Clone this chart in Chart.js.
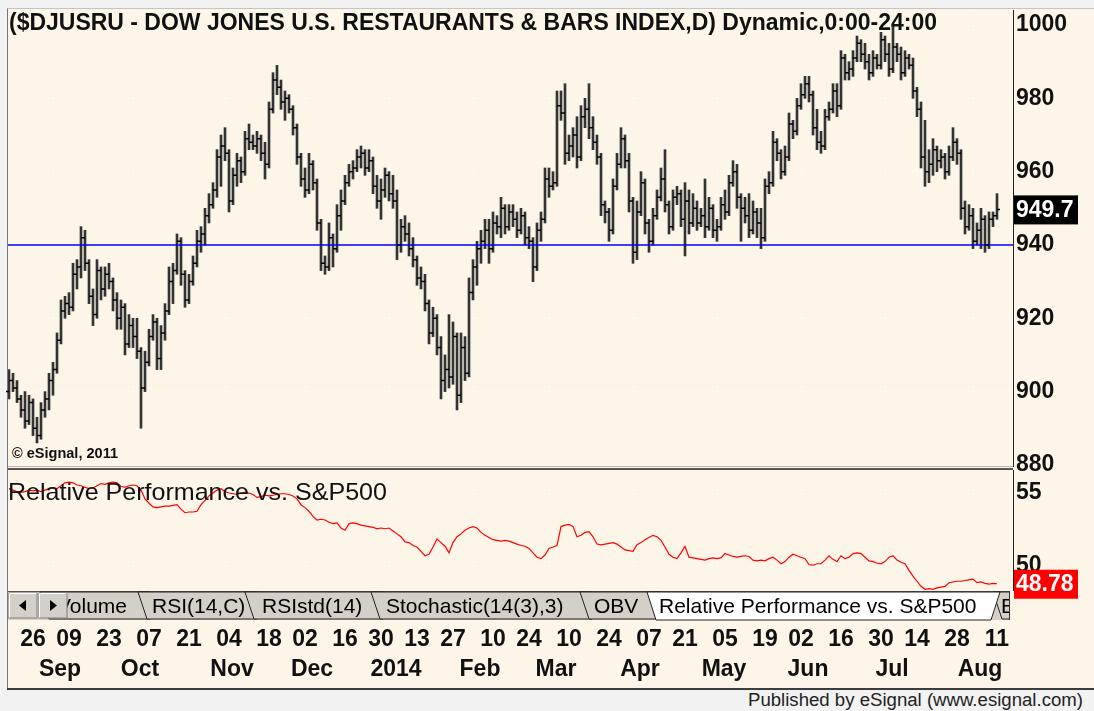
<!DOCTYPE html>
<html>
<head>
<meta charset="utf-8">
<title>$DJUSRU</title>
<script src="https://cdn.jsdelivr.net/npm/chart.js@4.4.1/dist/chart.umd.min.js"></script>
<style>
  body { margin: 0; background: #f0f0f0; font-family: "Liberation Sans", Arial, sans-serif; }
  #wrap { position: relative; width: 1094px; height: 711px; overflow: hidden; background: #f2f2f2; }
  #panel { position: absolute; left: 7px; top: 8px; width: 1087px; height: 681px; background: #fdf6e8;
           border-left: 1px solid #777; border-top: 1px solid #c4c4c4; box-sizing: border-box; }
  canvas { position: absolute; left: 0; }
  .txt { position: absolute; white-space: nowrap; transform-origin: left top; color: #111; }
  #title { left: 9px; top: 8px; font: bold 24px "Liberation Sans", Arial, sans-serif; }
  #copy { left: 12px; top: 445px; font: bold 14px "Liberation Sans", Arial, sans-serif; }
  #rplabel { left: 8px; top: 478px; font: 24px "Liberation Sans", Arial, sans-serif; }
  #footer { left: 748px; top: 690px; font: 18px "Liberation Sans", Arial, sans-serif; color: #222; }
  .sep { position: absolute; left: 8px; width: 1005px; }
</style>
</head>
<body>
<div id="wrap">
  <div id="panel"></div>
  <canvas id="main" width="1094" height="480" style="top:0"></canvas>
  <canvas id="rp" width="1094" height="218" style="top:470px"></canvas>
  <div class="sep" style="top:466px;height:1px;background:#b8b8b8"></div>
  <div class="sep" style="top:468px;height:2px;background:#555"></div>
  <div style="position:absolute;left:7px;top:688px;width:1087px;height:2px;background:#3c3c3c"></div>

  <div id="title" class="txt">($DJUSRU - DOW JONES U.S. RESTAURANTS &amp; BARS INDEX,D) Dynamic,0:00-24:00</div>
  <div id="copy" class="txt">&copy; eSignal, 2011</div>
  <div id="rplabel" class="txt">Relative Performance vs. S&amp;P500</div>
  <div id="footer" class="txt">Published by eSignal (www.esignal.com)</div>

  <svg style="position:absolute;left:0;top:588px" width="1094" height="36" font-family="Liberation Sans, Arial, sans-serif" font-size="21">
    <defs><clipPath id="bar"><rect x="8" y="0" width="1002" height="36"/></clipPath></defs>
    <g clip-path="url(#bar)">
      <rect x="8" y="3" width="1002" height="29" fill="#d4d0c8"/>
      <line x1="8" y1="3.5" x2="1010" y2="3.5" stroke="#555"/>
      <polygon points="40,4 49,31 150,31 150,4" fill="#d4d0c8" stroke="#222"/>
      <text x="57" y="25">Volume</text>
      <polygon points="138,4 147,31 257,31 257,4" fill="#d4d0c8" stroke="#222"/>
      <text x="152" y="25">RSI(14,C)</text>
      <polygon points="245,4 254,31 383,31 383,4" fill="#d4d0c8" stroke="#222"/>
      <text x="262" y="25">RSIstd(14)</text>
      <polygon points="371,4 380,31 592,31 592,4" fill="#d4d0c8" stroke="#222"/>
      <text x="386" y="25">Stochastic(14(3),3)</text>
      <polygon points="580,4 589,31 660,31 660,4" fill="#d4d0c8" stroke="#222"/>
      <text x="594" y="25">OBV</text>
      <polygon points="993,4 1002,31 1060,31 1060,4" fill="#d4d0c8" stroke="#222"/>
      <text x="1001" y="25">E</text>
      <polygon points="647,4 656,32 991,32 1000,4" fill="#ffffff" stroke="#222"/>
      <text x="659" y="25">Relative Performance vs. S&amp;P500</text>
      <rect x="9" y="5" width="28" height="25" fill="#d4d0c8" stroke="#808080"/>
      <polyline points="9.5,29.5 9.5,5.5 36.5,5.5" fill="none" stroke="#fff"/>
      <polygon points="19,17.5 26,12 26,23" fill="#000"/>
      <rect x="39" y="5" width="28" height="25" fill="#d4d0c8" stroke="#808080"/>
      <polyline points="39.5,29.5 39.5,5.5 66.5,5.5" fill="none" stroke="#fff"/>
      <polygon points="50,12 50,23 57,17.5" fill="#000"/>
      <line x1="1009.5" y1="3" x2="1009.5" y2="32" stroke="#333"/>
    </g>
  </svg>
</div>

<script>
// trading day index 0 = 16 Aug 2013, last (247) = 11 Aug 2014
const dayTickIdx = [6, 15, 25, 35, 45, 55, 65, 74, 84, 93, 102, 111, 121, 130, 140, 150, 160, 169, 179, 189, 198, 208, 218, 227, 237, 247];
const dayTickLabels = ['26', '09', '23', '07', '21', '04', '18', '02', '16', '30', '13', '27', '10', '24', '10', '24', '07', '21', '05', '19', '02', '16', '30', '14', '28', '11'];
const monthIdx = [11, 31, 54, 74, 95, 116, 135, 156, 177, 198, 219, 241];
const monthLabels = ['Sep', 'Oct', 'Nov', 'Dec', '2014', 'Feb', 'Mar', 'Apr', 'May', 'Jun', 'Jul', 'Aug'];
const priceTicks = [880, 900, 920, 940, 960, 980, 1000];
const rpTicks = [50, 55];
const refLevel = 940;

const opens = [
  900, 903, 901, 898, 895, 892, 897, 890, 888, 895,
  898, 903, 906, 914, 922, 924, 923, 932, 934, 942,
  935, 926, 921, 933, 928, 932, 930, 925, 920, 923,
  913, 918, 915, 911, 901, 908, 915, 919, 909, 916,
  922, 930, 933, 941, 932, 925, 930, 935, 941, 943,
  948, 951, 955, 964, 967, 965, 952, 959, 963, 960,
  969, 968, 967, 969, 965, 962, 977, 985, 983, 979,
  980, 977, 972, 964, 958, 955, 962, 957, 946, 935,
  934, 942, 939, 948, 952, 957, 960, 961, 964, 965,
  961, 963, 956, 952, 955, 959, 954, 952, 940, 945,
  943, 939, 936, 931, 930, 924, 916, 920, 912, 903,
  906, 904, 915, 899, 912, 905, 927, 934, 939, 941,
  944, 939, 946, 945, 950, 945, 949, 947, 944, 948,
  942, 941, 934, 944, 947, 958, 956, 957, 978, 976,
  965, 967, 970, 964, 975, 977, 972, 968, 964, 951,
  949, 944, 956, 962, 969, 963, 952, 938, 949, 957,
  946, 941, 948, 953, 958, 951, 945, 953, 954, 947,
  952, 946, 950, 946, 948, 945, 950, 944, 945, 951,
  949, 957, 960, 953, 950, 948, 944, 949, 946, 942,
  956, 957, 968, 965, 960, 964, 973, 971, 978, 981,
  984, 981, 972, 968, 967, 975, 977, 982, 978, 991,
  987, 988, 991, 995, 992, 990, 987, 991, 989, 996,
  992, 988, 994, 992, 987, 991, 989, 982, 977, 964,
  960, 962, 966, 963, 964, 960, 964, 968, 965, 950,
  945, 948, 941, 944, 947, 940, 947, 948
];
const highs = [
  906, 905, 903, 899, 900, 899, 898, 893, 897, 900,
  905, 908, 916, 925, 926, 927, 935, 936, 945, 944,
  936, 928, 936, 934, 934, 935, 931, 927, 925, 924,
  921, 920, 920, 912, 911, 917, 921, 920, 918, 924,
  934, 935, 943, 942, 933, 932, 937, 944, 945, 950,
  954, 957, 966, 970, 972, 966, 961, 965, 964, 971,
  973, 970, 971, 970, 968, 979, 987, 989, 985, 982,
  981, 978, 973, 965, 961, 965, 963, 958, 947, 937,
  946, 943, 951, 955, 959, 962, 963, 966, 967, 966,
  966, 964, 959, 958, 961, 960, 959, 955, 947, 948,
  946, 942, 937, 934, 932, 925, 923, 921, 915, 910,
  921, 919, 916, 916, 915, 931, 936, 941, 944, 947,
  947, 949, 948, 953, 951, 951, 951, 949, 950, 949,
  945, 942, 946, 949, 961, 961, 960, 982, 982, 984,
  970, 972, 975, 978, 980, 984, 975, 970, 965, 952,
  950, 958, 965, 972, 970, 965, 953, 952, 960, 958,
  947, 950, 955, 961, 966, 952, 955, 956, 955, 957,
  955, 954, 952, 950, 958, 953, 951, 947, 953, 955,
  959, 963, 962, 954, 953, 954, 952, 950, 950, 958,
  960, 971, 969, 966, 967, 976, 974, 980, 984, 986,
  986, 982, 977, 971, 977, 979, 984, 984, 993, 992,
  990, 993, 997, 996, 995, 992, 993, 992, 998, 997,
  995, 1000, 995, 994, 993, 992, 991, 983, 979, 974,
  966, 969, 967, 966, 965, 967, 972, 969, 966, 952,
  951, 950, 946, 950, 948, 949, 949, 954
];
const lows = [
  898, 900, 897, 893, 890, 891, 888, 886, 887, 893,
  895, 899, 905, 913, 920, 921, 922, 928, 931, 933,
  924, 918, 920, 925, 926, 928, 922, 917, 917, 910,
  912, 912, 909, 890, 900, 907, 914, 906, 906, 914,
  921, 924, 932, 929, 923, 924, 929, 934, 938, 940,
  946, 950, 953, 956, 963, 949, 951, 956, 957, 959,
  966, 966, 965, 963, 958, 961, 976, 981, 977, 974,
  976, 970, 962, 956, 953, 954, 955, 944, 933, 932,
  933, 934, 938, 944, 951, 956, 958, 960, 961, 959,
  960, 954, 950, 947, 953, 952, 950, 936, 938, 941,
  937, 934, 929, 928, 922, 913, 915, 910, 898, 900,
  901, 902, 895, 897, 903, 904, 925, 929, 935, 939,
  935, 938, 943, 942, 943, 944, 945, 942, 943, 940,
  939, 930, 933, 941, 946, 953, 955, 956, 974, 962,
  963, 964, 961, 963, 972, 969, 966, 962, 948, 946,
  941, 943, 955, 961, 961, 949, 935, 936, 948, 943,
  938, 940, 947, 952, 949, 943, 944, 951, 945, 937,
  943, 945, 944, 945, 942, 944, 942, 941, 944, 947,
  948, 956, 950, 941, 946, 942, 943, 942, 939, 941,
  954, 956, 963, 958, 959, 963, 969, 970, 977, 980,
  979, 970, 966, 965, 966, 974, 976, 975, 977, 985,
  985, 986, 990, 990, 988, 985, 986, 988, 988, 990,
  986, 987, 990, 985, 986, 988, 980, 975, 961, 956,
  957, 959, 960, 961, 958, 959, 963, 962, 947, 943,
  944, 939, 940, 939, 938, 939, 945, 947
];
const closes = [
  903, 901, 898, 895, 892, 897, 890, 888, 895, 898,
  903, 906, 914, 922, 924, 923, 932, 934, 942, 935,
  926, 921, 933, 928, 932, 930, 925, 920, 923, 913,
  918, 915, 911, 901, 908, 915, 919, 909, 916, 922,
  930, 933, 941, 932, 925, 930, 935, 941, 943, 948,
  951, 955, 964, 967, 965, 952, 959, 963, 960, 969,
  968, 967, 969, 965, 962, 977, 985, 983, 979, 980,
  977, 972, 964, 958, 955, 962, 957, 946, 935, 934,
  942, 939, 948, 952, 957, 960, 961, 964, 965, 961,
  963, 956, 952, 955, 959, 954, 952, 940, 945, 943,
  939, 936, 931, 930, 924, 916, 920, 912, 903, 906,
  904, 915, 899, 912, 905, 927, 934, 939, 941, 944,
  939, 946, 945, 950, 945, 949, 947, 944, 948, 942,
  941, 934, 944, 947, 958, 956, 957, 978, 976, 965,
  967, 970, 964, 975, 977, 972, 968, 964, 951, 949,
  944, 956, 962, 969, 963, 952, 938, 949, 957, 946,
  941, 948, 953, 958, 951, 945, 953, 954, 947, 952,
  946, 950, 946, 948, 945, 950, 944, 945, 951, 949,
  957, 960, 953, 950, 948, 944, 949, 946, 942, 956,
  957, 968, 965, 960, 964, 973, 971, 978, 981, 984,
  981, 972, 968, 967, 975, 977, 982, 978, 991, 987,
  988, 991, 995, 992, 990, 987, 991, 989, 996, 992,
  988, 994, 992, 987, 991, 989, 982, 977, 964, 960,
  962, 966, 963, 964, 960, 964, 968, 965, 950, 945,
  948, 941, 944, 947, 940, 947, 948, 949.7
];
// relative performance vs. S&P500
const rpValues = [
  55.3, 55.2, 55.1, 55.05, 55.1, 55.2, 55.15, 55.2, 55.1, 55.2,
  55.3, 55.35, 55.3, 55.5, 55.7, 55.75, 55.7, 55.55, 55.5, 55.4,
  55.3, 55.35, 55.5, 55.65, 55.6, 55.7, 55.75, 55.7, 55.45, 55.4,
  55.5, 55.55, 55.5, 55.2, 54.6, 54.3, 54.05, 54.0, 54.05, 54.1,
  54.1, 54.15, 54.2, 53.9, 53.65, 53.7, 53.7, 53.75, 54.2, 54.5,
  54.8, 55.0, 55.2, 55.3, 55.1, 55.0, 54.95, 54.9, 55.0, 55.05,
  55.0, 54.9, 54.7, 54.75, 54.85, 54.8, 54.85, 54.9, 54.95, 54.95,
  54.9, 54.8, 54.6, 54.2, 54.0, 53.75, 53.4, 53.15, 53.2, 53.15,
  53.0, 52.9, 52.95, 52.6, 52.45, 52.9, 52.95, 52.9, 52.8, 52.75,
  52.7, 52.65, 52.55, 52.6, 52.55, 52.6, 52.4, 52.2, 52.0, 51.65,
  51.6, 51.4, 51.3, 51.0, 50.7, 50.8, 51.3, 51.85, 51.6, 51.35,
  50.9, 51.6, 52.0, 52.2, 52.45, 52.6, 52.7, 52.6, 52.3, 52.1,
  51.95, 51.8, 51.75, 51.7, 51.75, 51.7, 51.6, 51.5, 51.4, 51.35,
  51.2, 50.9, 50.6, 50.5, 50.75, 51.2, 51.3, 51.4, 52.7, 52.8,
  52.85, 52.7, 52.0, 52.1, 52.3, 52.35, 52.0, 51.5, 51.45, 51.5,
  51.55, 51.6, 51.5, 51.3, 51.1, 51.05, 51.0, 51.45, 51.6, 51.8,
  51.95, 52.1, 52.0, 51.75, 51.3, 50.8, 50.6, 50.5, 50.9, 51.35,
  50.6, 50.55, 50.5, 50.45, 50.4, 50.5, 50.55, 50.5, 50.55, 50.85,
  50.75, 50.65, 50.6, 50.65, 50.7, 50.65, 50.4, 50.35, 50.4, 50.35,
  50.5, 50.6, 50.4, 50.15, 50.3, 50.6, 50.8, 50.7, 50.6, 50.5,
  50.1, 50.05, 50.15, 50.15, 50.4, 50.7, 50.45, 50.3, 50.7, 50.5,
  50.6, 50.85, 50.9, 50.85, 50.6, 50.35, 50.3, 50.2, 50.15, 50.3,
  50.6, 50.7, 50.4, 50.25, 50.15, 49.7, 49.3, 48.95, 48.6, 48.4,
  48.45, 48.4, 48.5, 48.55, 48.6, 48.85, 48.9, 48.95, 48.95, 49.0,
  49.05, 49.1, 48.85, 48.9, 48.8, 48.75, 48.8, 48.78
];

const xMin = -0.25, xMax = 251;
const labelFont = { family: 'Liberation Sans', size: 23, weight: 'bold' };
const gridDots = 'rgba(255,255,255,0.95)';

function fixWidth(w) {
    return axis => { axis.width = w; axis.paddingTop = 0; axis.paddingBottom = 0; };
}
function fixHeight(h) {
    return axis => { axis.height = h; axis.paddingLeft = 0; axis.paddingRight = 0; };
}

// open tick to the left, close tick to the right of each bar
const ohlcTicks = {
    id: 'ohlcTicks',
    afterDatasetsDraw(chart) {
        const { ctx, scales: { x, y } } = chart;
        ctx.save();
        ctx.strokeStyle = '#000';
        ctx.lineWidth = 1.5;
        ctx.beginPath();
        opens.forEach((o, i) => {
            const px = x.getPixelForValue(i);
            const yo = y.getPixelForValue(o);
            const yc = y.getPixelForValue(closes[i]);
            ctx.moveTo(px - 3, yo); ctx.lineTo(px, yo);
            ctx.moveTo(px, yc); ctx.lineTo(px + 3, yc);
        });
        ctx.stroke();
        ctx.restore();
    }
};

function lastValueBox(id, value, text, bg) {
    return {
        id,
        afterDraw(chart) {
            const { ctx } = chart;
            const ys = chart.scales.y;
            const py = ys.getPixelForValue(value);
            ctx.save();
            ctx.fillStyle = bg;
            ctx.fillRect(ys.left + 1, py - 14, 64, 29);
            ctx.fillStyle = '#fff';
            ctx.font = 'bold 23px "Liberation Sans"';
            ctx.textBaseline = 'middle';
            ctx.fillText(text, ys.left + 3, py + 1);
            ctx.restore();
        }
    };
}

new Chart(document.getElementById('main'), {
    type: 'bar',
    data: {
        datasets: [
            {
                type: 'line',
                data: [{ x: xMin, y: refLevel }, { x: xMax, y: refLevel }],
                borderColor: '#0000ff',
                borderWidth: 1.5,
                pointRadius: 0,
                order: 0
            },
            {
                data: highs.map((h, i) => ({ x: i, y: [lows[i], h] })),
                backgroundColor: '#333333',
                borderWidth: 0,
                barThickness: 2,
                order: 1
            }
        ]
    },
    options: {
        responsive: false,
        animation: false,
        layout: { padding: { left: 8, top: 10, right: 0, bottom: 14 } },
        plugins: { legend: { display: false }, tooltip: { enabled: false } },
        scales: {
            x: {
                type: 'linear', min: xMin, max: xMax, offset: false,
                afterBuildTicks: a => { a.ticks = monthIdx.map(v => ({ value: v })); },
                afterFit: fixHeight(0),
                ticks: { display: false },
                grid: { color: gridDots, drawTicks: false, offset: false },
                border: { display: false, dash: [1, 3] }
            },
            y: {
                position: 'right', min: 879.7, max: 1004.1,
                afterBuildTicks: a => { a.ticks = priceTicks.map(v => ({ value: v })); },
                afterFit: fixWidth(81),
                ticks: { font: labelFont, color: '#111', padding: 3, callback: v => String(v) },
                grid: { color: gridDots, drawTicks: false },
                border: { display: true, color: '#222', width: 1, dash: [1, 3] }
            }
        }
    },
    plugins: [ohlcTicks, lastValueBox('priceBox', closes[closes.length - 1], '949.7', '#000')]
});

new Chart(document.getElementById('rp'), {
    type: 'line',
    data: {
        datasets: [{
            data: rpValues.map((v, i) => ({ x: i, y: v })),
            borderColor: '#ff0000',
            borderWidth: 1.2,
            pointRadius: 0
        }]
    },
    options: {
        responsive: false,
        animation: false,
        layout: { padding: { left: 8, top: 0, right: 0, bottom: 0 } },
        plugins: { legend: { display: false }, tooltip: { enabled: false } },
        scales: {
            x: {
                type: 'linear', min: xMin, max: xMax, weight: 0,
                afterBuildTicks: a => { a.ticks = dayTickIdx.map(v => ({ value: v })); },
                afterFit: fixHeight(60),
                ticks: { callback: (v, i) => dayTickLabels[i], font: labelFont, color: '#111', padding: 36, maxRotation: 0, autoSkip: false },
                grid: { display: false, drawTicks: false },
                border: { display: false }
            },
            x2: {
                type: 'linear', position: 'bottom', min: xMin, max: xMax, weight: 1,
                afterBuildTicks: a => { a.ticks = monthIdx.map(v => ({ value: v })); },
                afterFit: fixHeight(38),
                ticks: { callback: (v, i) => monthLabels[i], font: labelFont, color: '#111', padding: 6, labelOffset: 7, maxRotation: 0, autoSkip: false },
                grid: { color: gridDots, drawTicks: false },
                border: { display: false, dash: [1, 3] }
            },
            y: {
                position: 'right', min: 48.35, max: 56.58,
                afterBuildTicks: a => { a.ticks = rpTicks.map(v => ({ value: v })); },
                afterFit: fixWidth(81),
                ticks: { font: labelFont, color: '#111', padding: 3 },
                grid: { color: gridDots, drawTicks: false },
                border: { display: true, color: '#222', width: 1, dash: [1, 3] }
            }
        }
    },
    plugins: [lastValueBox('rpBox', rpValues[rpValues.length - 1], '48.78', '#ff0000')]
});

// squeeze overlay texts to the widths seen in the original
function fitText(id, width) {
    const el = document.getElementById(id);
    el.style.transform = 'scaleX(' + (width / el.getBoundingClientRect().width) + ')';
}
fitText('title', 928);
fitText('copy', 106);
fitText('rplabel', 379);
fitText('footer', 335);
</script>
</body>
</html>
